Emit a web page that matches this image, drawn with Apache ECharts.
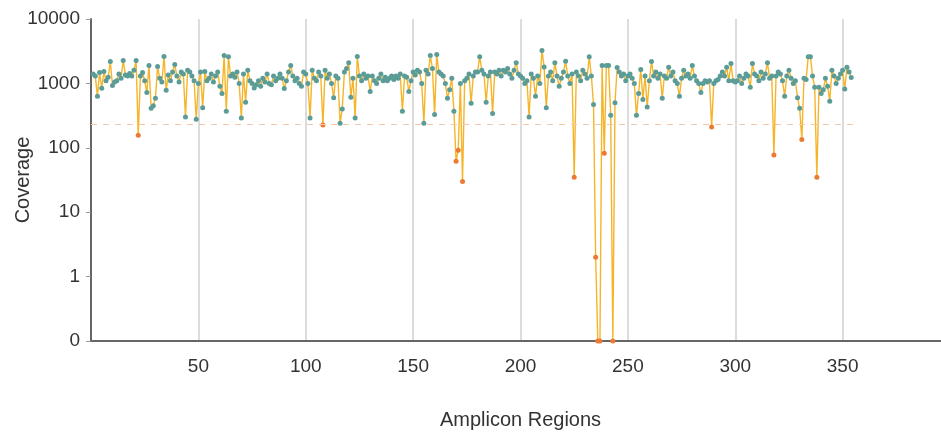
<!DOCTYPE html>
<html>
<head>
<meta charset="utf-8">
<title>Amplicon coverage</title>
<script src="https://cdn.jsdelivr.net/npm/echarts@6/dist/echarts.min.js"></script>
<style>
  html, body { margin: 0; padding: 0; background: #fff; }
  #chart { width: 941px; height: 433px; }
</style>
</head>
<body>
<div id="chart"></div>
<script>
// coverage per amplicon region (region 1..354)
const coverage = [
  1400, 1300, 630, 1480, 840, 1530, 1100, 1250, 2190, 930,
  1050, 1100, 1400, 1200, 2270, 1350, 1300, 1430, 1300, 1600,
  2270, 157, 1300, 1480, 1100, 720, 1900, 410, 450, 590,
  1830, 1200, 1050, 2620, 780, 1350, 1100, 1500, 1970, 1300,
  1050, 1500, 1400, 300, 1600, 1500, 1300, 1100, 277, 1000,
  1500, 420, 1530, 1100, 1200, 1400, 1050, 1300, 1500, 900,
  700, 2700, 370, 2600, 1300, 1400, 1250, 1500, 1000, 290,
  1400, 510, 1600, 1100, 1000, 850, 950, 1100, 900, 1200,
  1050, 1400, 1000, 950, 1300, 1100, 1200, 1400, 1200, 830,
  1100, 1500, 1900, 1300, 1100, 1200, 1000, 900, 1500, 1400,
  1000, 290, 1600, 1200, 1100, 1500, 1300, 225, 1600, 1200,
  1400, 1000, 600, 1300, 1200, 240, 400, 1500, 1700, 2100,
  610, 1200, 290, 2620, 1300, 1100, 1400, 1200, 1300, 750,
  1300, 1100, 1000, 1200, 1400, 1100, 1250, 1100, 1200, 1300,
  1150, 1300, 1200, 1400, 370, 1300, 1250, 750, 1100, 1500,
  1350, 1600, 1500, 1000, 240, 1600, 1400, 2700, 1700, 330,
  2800, 1500, 1400, 1300, 1000, 590, 800, 1200, 370, 62,
  92, 1000, 30, 1100, 1200, 1400, 490, 1300, 1500, 1500,
  2600, 1600, 1400, 510, 1300, 1500, 340, 1500, 1400, 1600,
  1300, 1600, 1500, 1700, 1400, 1200, 1600, 2100, 1400, 1300,
  1200, 1000, 1100, 300, 1400, 1200, 630, 1300, 1000, 3250,
  1800, 420, 1300, 1500, 1100, 2100, 1300, 900, 1200, 1500,
  2200, 1300, 1000, 1400, 35, 1500, 1300, 1100, 1600, 1400,
  1200, 2600, 1300, 470, 2, 0, 0, 1900, 82, 1900,
  1900, 320, 0, 500, 1770, 1500, 1300, 1400, 1100, 1300,
  1400, 1200, 1000, 320, 700, 1650, 560, 1300, 430, 1100,
  2190, 1300, 1500, 1200, 1400, 590, 1300, 1200, 1780, 1300,
  1500, 1100, 1000, 630, 1200, 1600, 1300, 1400, 1200, 1900,
  1300, 1100, 1000, 720, 1000, 1100, 1050, 1100, 210, 1000,
  1100, 1150, 1300, 1500, 1300, 1780, 1100, 2040, 1100, 1050,
  1100, 1300, 1000, 1200, 1400, 1300, 870, 2040, 1400, 1300,
  1100, 1500, 1200, 1400, 2100, 1200, 1300, 77, 1300, 1500,
  1400, 1100, 630, 1300, 1600, 1200, 1000, 1100, 600, 410,
  135, 1200, 1150, 2600, 2600, 1300, 870, 35, 870, 700,
  800, 1200, 900, 530, 1600, 1300, 1000, 1200, 1400, 1600,
  820, 1780, 1500, 1240
]
const regions = coverage.map((v, i) => i + 1)
const threshold = 228
const yTicks = [0.1, 1, 10, 100, 1000, 10000]
const xTicks = [50, 100, 150, 200, 250, 300, 350]

const font = "'Liberation Sans', Arial, sans-serif"
// zero coverage sits on the bottom of the log axis
const points = coverage.map((v, i) => [regions[i], v > 0 ? v : yTicks[0]])

const chart = echarts.init(document.getElementById('chart'))
chart.setOption({
  animation: false,
  grid: {
    left: 91,
    top: 19,
    right: -9,
    bottom: 92,
    containLabel: false,
    outerBoundsMode: 'none'
  },
  xAxis: {
    type: 'value',
    min: 0,
    max: 400,
    interval: 50,
    name: 'Amplicon Regions',
    nameLocation: 'middle',
    nameGap: 69,
    nameMoveOverlap: false,
    nameTextStyle: { fontFamily: font, fontSize: 20, color: '#333' },
    axisLine: { lineStyle: { color: '#666', width: 2 } },
    axisTick: { show: false },
    axisLabel: {
      margin: 16,
      fontFamily: font,
      fontSize: 19,
      color: '#333',
      formatter: v => (xTicks.indexOf(v) >= 0 ? String(v) : '')
    },
    splitLine: { show: true, lineStyle: { color: '#d0d0d0', width: 1.5 } }
  },
  yAxis: {
    type: 'log',
    logBase: 10,
    min: yTicks[0],
    max: yTicks[yTicks.length - 1],
    name: 'Coverage',
    nameLocation: 'middle',
    nameGap: 58,
    nameMoveOverlap: false,
    nameTextStyle: { fontFamily: font, fontSize: 20, color: '#333' },
    axisLine: { show: true, lineStyle: { color: '#666', width: 2 } },
    axisTick: { show: true, length: 5, lineStyle: { color: '#999' } },
    axisLabel: {
      margin: 11,
      fontFamily: font,
      fontSize: 19,
      color: '#333',
      formatter: v => (v < 1 ? '0' : String(Math.round(v)))
    },
    splitLine: { show: false }
  },
  series: [
    {
      type: 'line',
      data: points,
      showSymbol: true,
      showAllSymbol: true,
      symbol: 'circle',
      symbolSize: 5,
      lineStyle: { color: '#f5b52a', width: 1.4 },
      itemStyle: {
        color: p => (p.value[1] < threshold ? '#ec7a35' : '#5b9c97')
      },
      markLine: {
        silent: true,
        symbol: 'none',
        label: { show: false },
        lineStyle: { color: '#f4c7a6', type: [6, 6], width: 1 },
        data: [[{ coord: [0, threshold] }, { coord: [356, threshold] }]]
      },
      z: 3
    }
  ]
})
</script>
</body>
</html>
